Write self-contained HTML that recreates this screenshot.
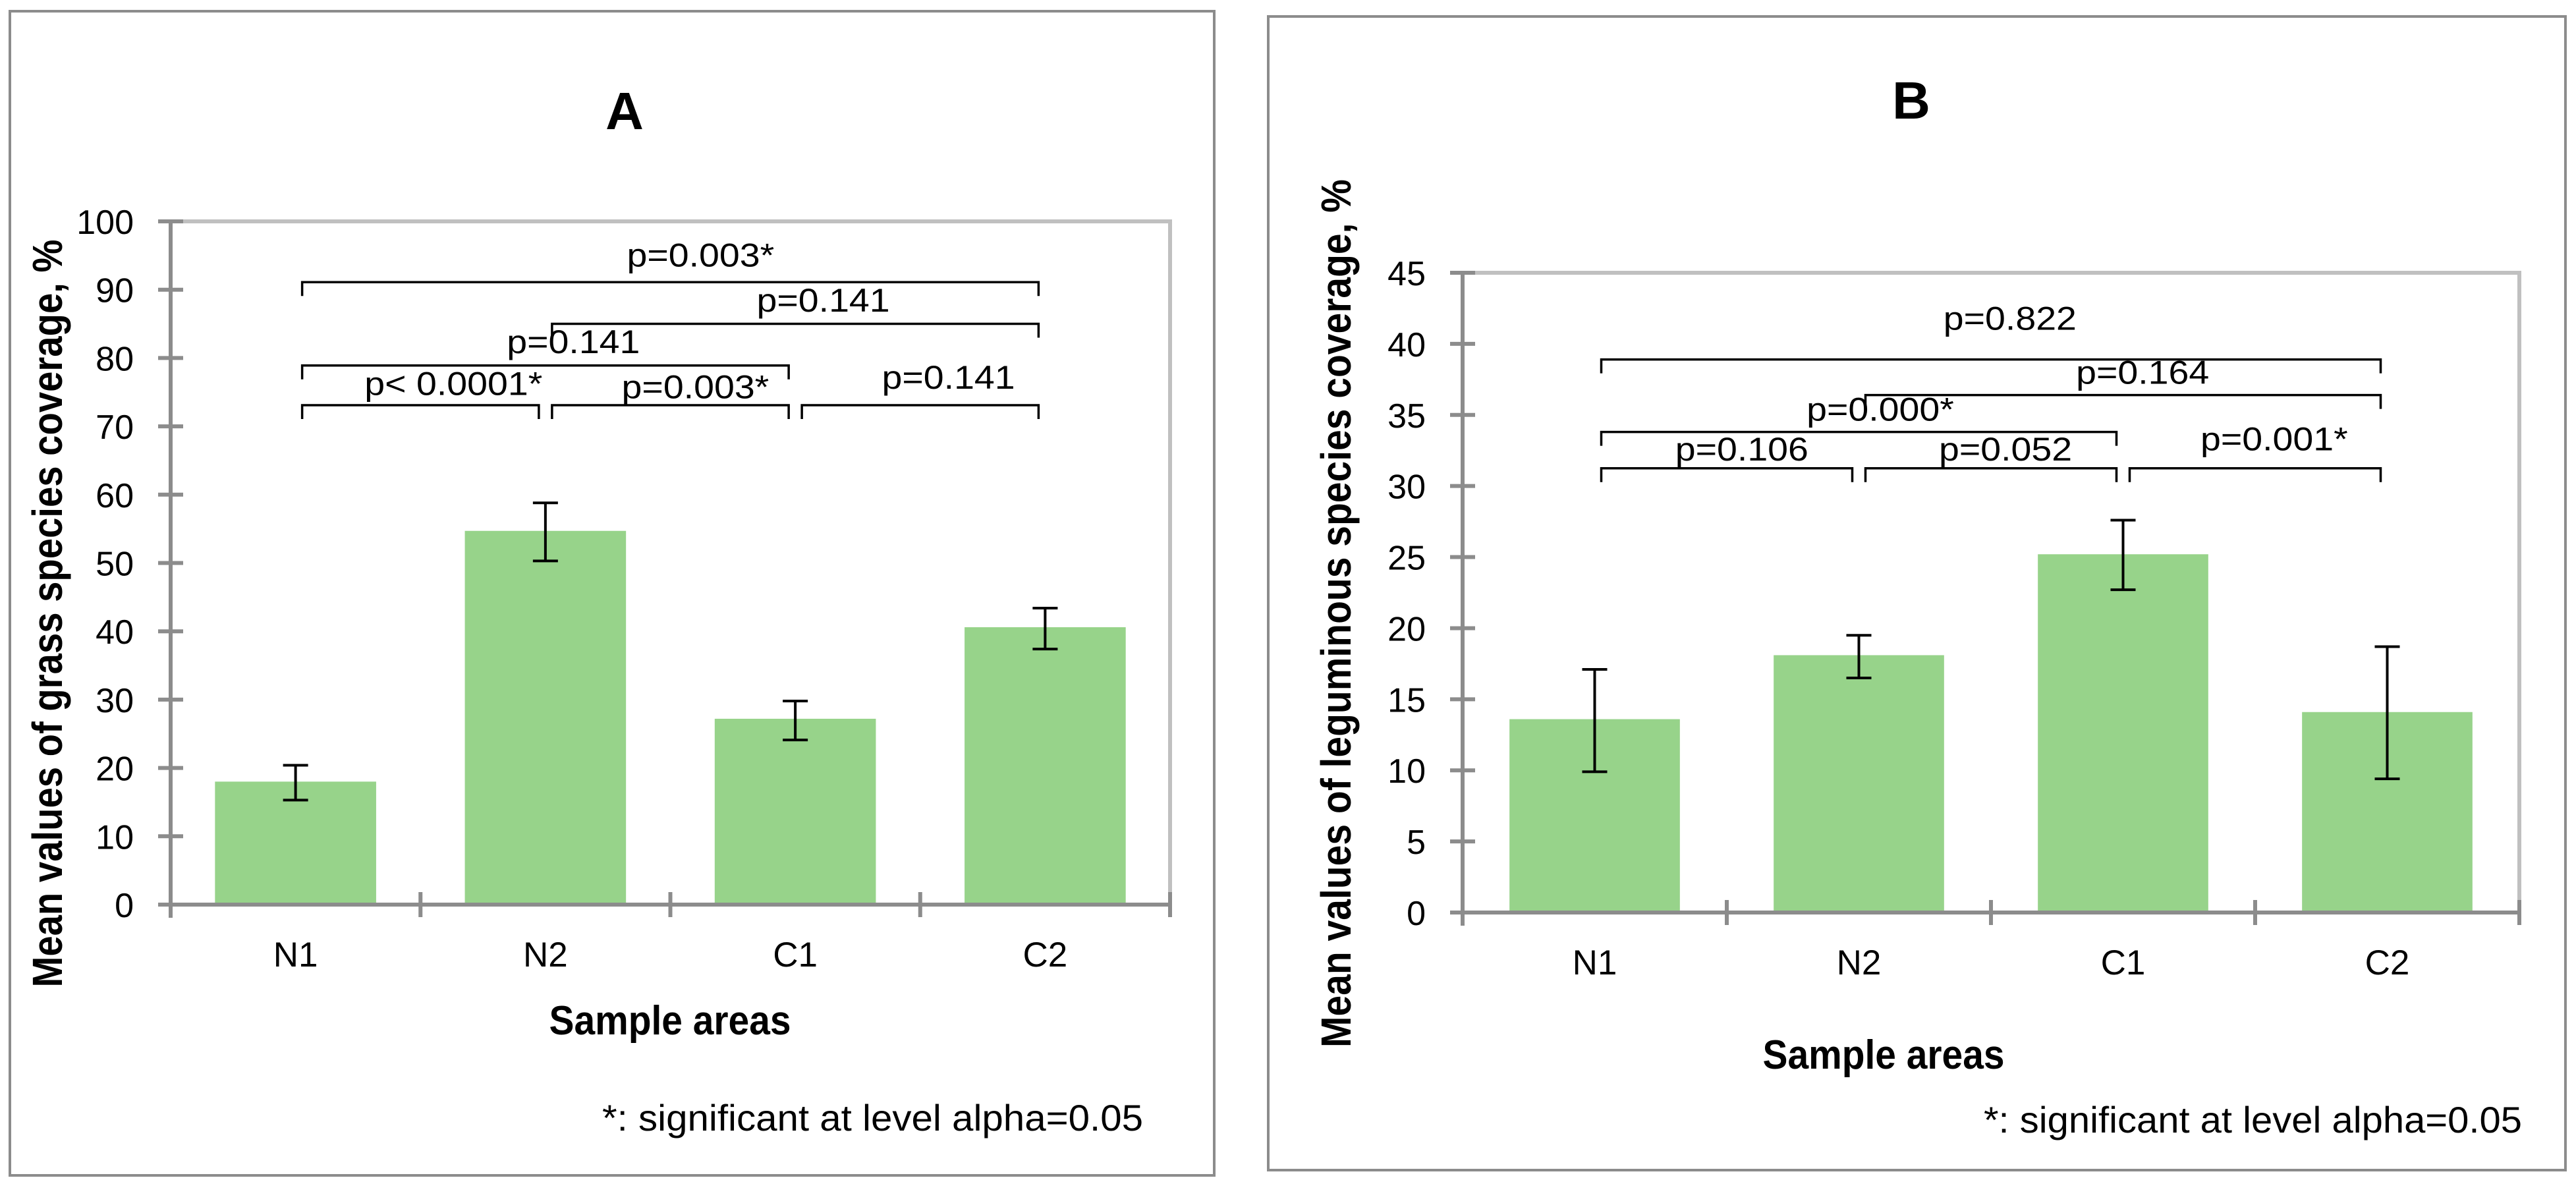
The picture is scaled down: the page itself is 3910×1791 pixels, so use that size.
<!DOCTYPE html>
<html><head><meta charset="utf-8"><style>
html,body{margin:0;padding:0;background:#fff;}
svg{display:block;}
text{font-family:"Liberation Sans",Arial,sans-serif;}
</style></head><body>
<svg id="root" width="3910" height="1791" viewBox="0 0 3910 1791" xmlns="http://www.w3.org/2000/svg">
<rect x="0" y="0" width="3910" height="1791" fill="#fff"/>
<rect x="15" y="17" width="1828" height="1767" fill="none" stroke="#8c8c8c" stroke-width="4"/>
<rect x="1925" y="25" width="1969" height="1751" fill="none" stroke="#8c8c8c" stroke-width="4"/>
<g id="panelA"></g>
<g id="panelB"></g>
</svg>
<script>
const categories = ["N1","N2","C1","C2"];
const grassMeans = [18.0, 54.7, 27.2, 40.6];
const grassErrHigh = [20.4, 58.8, 29.8, 43.4];
const grassErrLow = [15.3, 50.3, 24.1, 37.4];
const grassTicks = [0,10,20,30,40,50,60,70,80,90,100];
const grassPairs = [[0,1],[1,2],[2,3],[0,2],[1,3],[0,3]];
const grassPLevels = [73.1, 73.1, 73.1, 78.9, 85.0, 91.1];
const grassPLabels = ["p< 0.0001*","p=0.003*","p=0.141","p=0.141","p=0.141","p=0.003*"];
const grassPLabelY = [74.6, 74.1, 75.5, 80.7, 86.8, 93.4];
const grassPLabelPos = [1.132, 2.100, 3.113, 1.612, 2.612, 2.121];

const legumeMeans = [13.6, 18.1, 25.2, 14.1];
const legumeErrHigh = [17.1, 19.5, 27.6, 18.7];
const legumeErrLow = [9.9, 16.5, 22.7, 9.4];
const legumeTicks = [0,5,10,15,20,25,30,35,40,45];
const legumePairs = [[0,1],[1,2],[2,3],[0,2],[1,3],[0,3]];
const legumePLevels = [31.25, 31.25, 31.25, 33.8, 36.4, 38.9];
const legumePLabels = ["p=0.106","p=0.052","p=0.001*","p=0.000*","p=0.164","p=0.822"];
const legumePLabelY = [31.8, 31.8, 32.5, 34.6, 37.2, 41.0];
const legumePLabelPos = [1.057, 2.055, 3.072, 1.581, 2.574, 2.072];

const NS="http://www.w3.org/2000/svg";
function mk(parent, tag, attrs, txt){
  const e=document.createElementNS(NS,tag);
  for(const k in attrs) e.setAttribute(k,attrs[k]);
  if(txt!==undefined) e.textContent=txt;
  parent.appendChild(e); return e;
}
function textW(s, size){
  const w={"p":.556,"=":.584,"0":.556,"1":.556,"2":.556,"3":.556,"4":.556,"5":.556,"6":.556,"7":.556,"8":.556,"9":.556,".":.278,"*":.389,"<":.584," ":.278};
  let t=0; for(const c of s) t+=(w[c]||.556); return t*size;
}
function drawPanel(g, cfg){
  const {x0,x1,y0,yTop,vmax,means,hi,lo,ticks,pairs,levels,labels,labelY,labelPos,title,titleX,titleY,yTitle,yTitleX,yTitleLen,xTitleX,xTitleY,xLabY,footX,footY,footLen,pScale}=cfg;
  const catW=(x1-x0)/categories.length;
  const yS=v=>y0-(v/vmax)*(y0-yTop);
  const xC=i=>x0+catW*(i+0.5);
  let t=mk(g,"text",{x:titleX,y:titleY,"text-anchor":"middle","font-size":80,"font-weight":"bold",fill:"#000"},title);
  
  
  let b=mk(g,"path",{d:`M${x0} ${yTop} H${x1} V${y0}`,fill:"none",stroke:"#c0c0c0","stroke-width":6});
  
  
  const bw=catW*0.645;
  means.forEach((v,i)=>{
    const r=mk(g,"rect",{x:xC(i)-bw/2,y:yS(v),width:bw,height:y0-yS(v),fill:"#97d38a"});
    
    
  });
  let ya=mk(g,"line",{x1:x0,y1:yTop-3,x2:x0,y2:y0+20,stroke:"#8c8c8c","stroke-width":6});
  
  
  let xa=mk(g,"line",{x1:x0-19,y1:y0,x2:x1+3,y2:y0,stroke:"#8c8c8c","stroke-width":6});
  
  
  ticks.forEach(v=>{
    const y=yS(v);
    const tl=mk(g,"line",{x1:x0-19,y1:y,x2:x0+19,y2:y,stroke:"#8c8c8c","stroke-width":6});
    
    
    const tx=mk(g,"text",{x:x0-56,y:y+19,"text-anchor":"end","font-size":52,fill:"#000"},String(v));
    
    
  });
  for(let i=1;i<=categories.length;i++){
    const x=x0+catW*i;
    const tl=mk(g,"line",{x1:x,y1:y0-19,x2:x,y2:y0+19,stroke:"#8c8c8c","stroke-width":6});
    
    
  }
  categories.forEach((c,i)=>{
    const tx=mk(g,"text",{x:xC(i),y:xLabY,"text-anchor":"middle","font-size":53,fill:"#000"},c);
    
    
  });
  means.forEach((v,i)=>{
    const x=xC(i);
    const p=mk(g,"path",{d:`M${x} ${yS(hi[i])} V${yS(lo[i])} M${x-19} ${yS(hi[i])} H${x+19} M${x-19} ${yS(lo[i])} H${x+19}`,stroke:"#000","stroke-width":4,fill:"none"});
    
    
  });
  pairs.forEach((pr,k)=>{
    const xa_=xC(pr[0])+10, xb=xC(pr[1])-10, y=yS(levels[k]);
    const p=mk(g,"path",{d:`M${xa_} ${y+21} V${y} H${xb} V${y+21}`,stroke:"#000","stroke-width":3.5,fill:"none"});
    
    
    const lx=x0+catW*labelPos[k];
    const tx=mk(g,"text",{x:lx,y:yS(labelY[k]),"text-anchor":"middle","font-size":50,fill:"#000",textLength:textW(labels[k],50)*pScale,lengthAdjust:"spacingAndGlyphs"},labels[k]);
    
    
  });
  const yt=mk(g,"text",{x:0,y:0,"text-anchor":"middle","font-size":64,"font-weight":"bold",fill:"#000",textLength:yTitleLen,lengthAdjust:"spacingAndGlyphs",transform:`translate(${yTitleX},931) rotate(-90)`},yTitle);
  
  
  const xt=mk(g,"text",{x:xTitleX,y:xTitleY,"text-anchor":"middle","font-size":62,"font-weight":"bold",fill:"#000",textLength:367,lengthAdjust:"spacingAndGlyphs"},"Sample areas");
  
  
  const ft=mk(g,"text",{x:footX,y:footY,"font-size":56,fill:"#000",textLength:footLen,lengthAdjust:"spacingAndGlyphs"},"*: significant at level alpha=0.05");
  
  
}
drawPanel(document.getElementById("panelA"),{x0:259,x1:1776,y0:1373,yTop:336,vmax:100,means:grassMeans,hi:grassErrHigh,lo:grassErrLow,ticks:grassTicks,pairs:grassPairs,levels:grassPLevels,labels:grassPLabels,labelY:grassPLabelY,labelPos:grassPLabelPos,title:"A",titleX:948,titleY:196,yTitle:"Mean values of grass species coverage, %",yTitleX:94,yTitleLen:1135,xTitleX:1017,xTitleY:1570,xLabY:1467,footX:914,footY:1716,footLen:821,pScale:1.11});
drawPanel(document.getElementById("panelB"),{x0:2220,x1:3824,y0:1385,yTop:414,vmax:45,means:legumeMeans,hi:legumeErrHigh,lo:legumeErrLow,ticks:legumeTicks,pairs:legumePairs,levels:legumePLevels,labels:legumePLabels,labelY:legumePLabelY,labelPos:legumePLabelPos,title:"B",titleX:2901,titleY:180,yTitle:"Mean values of leguminous species coverage, %",yTitleX:2050,yTitleLen:1318,xTitleX:2859,xTitleY:1622,xLabY:1479,footX:3011,footY:1719,footLen:817,pScale:1.11});
</script>
</body></html>
